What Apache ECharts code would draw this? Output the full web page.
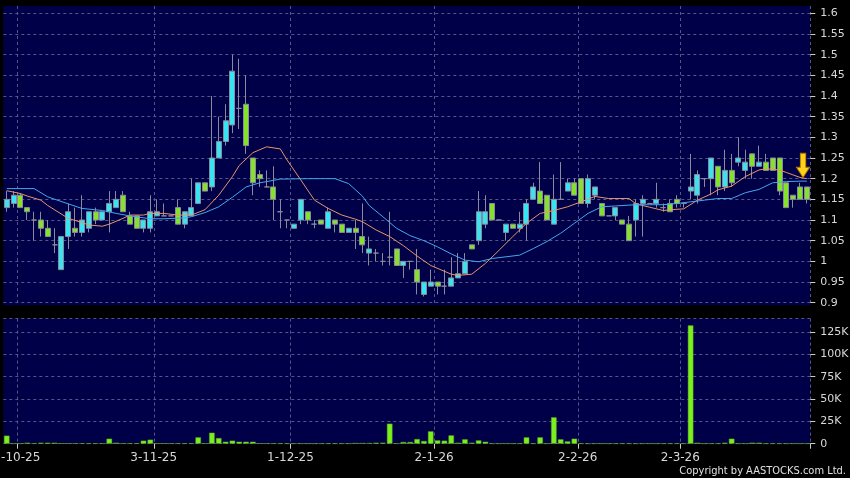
<!DOCTYPE html>
<html><head><meta charset="utf-8">
<script src="https://cdn.jsdelivr.net/npm/echarts@6/dist/echarts.min.js"></script>
<style>html,body{margin:0;padding:0;background:#000;}#c{width:850px;height:478px;}</style>
</head><body><div id="c"></div>
<script>
const categories = [
'29-9-25','30-9-25','2-10-25','3-10-25','6-10-25','8-10-25','9-10-25','10-10-25','13-10-25','14-10-25',
'15-10-25','16-10-25','17-10-25','20-10-25','21-10-25','22-10-25','23-10-25','24-10-25','27-10-25','28-10-25',
'30-10-25','31-10-25','3-11-25','4-11-25','5-11-25','6-11-25','7-11-25','10-11-25','11-11-25','12-11-25',
'13-11-25','14-11-25','17-11-25','18-11-25','19-11-25','20-11-25','21-11-25','24-11-25','25-11-25','26-11-25',
'27-11-25','28-11-25','1-12-25','2-12-25','3-12-25','4-12-25','5-12-25','8-12-25','9-12-25','10-12-25',
'11-12-25','12-12-25','15-12-25','16-12-25','17-12-25','18-12-25','19-12-25','22-12-25','23-12-25','24-12-25',
'29-12-25','30-12-25','31-12-25','2-1-26','5-1-26','6-1-26','7-1-26','8-1-26','9-1-26','12-1-26',
'13-1-26','14-1-26','15-1-26','16-1-26','19-1-26','20-1-26','21-1-26','22-1-26','23-1-26','26-1-26',
'27-1-26','28-1-26','29-1-26','30-1-26','2-2-26','3-2-26','4-2-26','5-2-26','6-2-26','9-2-26',
'10-2-26','11-2-26','12-2-26','13-2-26','23-2-26','24-2-26','25-2-26','26-2-26','27-2-26','2-3-26',
'3-3-26','4-3-26','5-3-26','6-3-26','9-3-26','10-3-26','11-3-26','12-3-26','13-3-26','16-3-26',
'17-3-26','18-3-26','19-3-26','20-3-26','23-3-26','24-3-26','25-3-26','26-3-26'];
const labelDates = ['2-10-25','3-11-25','1-12-25','2-1-26','2-2-26','2-3-26'];

const openP = [
1.13,1.14,1.16,1.13,1.10,1.10,1.08,1.04,0.98,1.06,
1.08,1.07,1.08,1.12,1.10,1.12,1.13,1.16,1.11,1.11,
1.08,1.08,1.11,1.11,1.11,1.13,1.09,1.11,1.14,1.19,
1.18,1.25,1.29,1.33,1.37,1.38,1.25,1.21,1.18,1.18,
1.12,1.10,1.08,1.10,1.12,1.09,1.10,1.08,1.10,1.09,
1.07,1.08,1.06,1.02,1.02,1.00,1.01,1.03,0.99,1.00,
0.98,0.92,0.94,0.95,0.94,0.94,0.96,0.97,1.04,1.05,
1.09,1.14,1.10,1.07,1.09,1.08,1.09,1.15,1.17,1.16,
1.09,1.15,1.17,1.19,1.20,1.14,1.16,1.14,1.11,1.11,
1.10,1.09,1.10,1.14,1.14,1.14,1.13,1.14,1.15,1.14,
1.17,1.16,1.20,1.20,1.23,1.18,1.22,1.24,1.22,1.26,
1.23,1.24,1.25,1.25,1.19,1.16,1.18,1.18];
const closeP = [
1.15,1.16,1.13,1.12,1.10,1.08,1.06,1.04,1.06,1.12,
1.07,1.10,1.12,1.10,1.12,1.14,1.15,1.12,1.09,1.08,
1.10,1.12,1.12,1.11,1.11,1.09,1.12,1.13,1.19,1.17,
1.25,1.29,1.34,1.46,1.37,1.28,1.19,1.20,1.18,1.15,
1.12,1.10,1.09,1.15,1.10,1.09,1.09,1.12,1.09,1.07,
1.08,1.07,1.04,1.03,1.02,1.00,1.01,0.99,1.00,1.00,
0.95,0.95,0.95,0.94,0.94,0.96,0.97,1.00,1.03,1.12,
1.12,1.10,1.10,1.09,1.08,1.09,1.14,1.18,1.14,1.10,
1.15,1.15,1.19,1.16,1.14,1.20,1.18,1.11,1.11,1.13,
1.09,1.05,1.14,1.15,1.14,1.15,1.13,1.12,1.14,1.14,
1.18,1.21,1.20,1.25,1.18,1.22,1.19,1.25,1.24,1.23,
1.24,1.22,1.22,1.17,1.13,1.15,1.15,1.15];
const lowP = [
1.12,1.13,1.13,1.10,1.05,1.06,1.06,1.02,0.98,1.03,
1.06,1.06,1.07,1.09,1.10,1.07,1.13,1.12,1.09,1.08,
1.07,1.07,1.11,1.11,1.11,1.09,1.08,1.11,1.14,1.17,
1.17,1.25,1.28,1.31,1.32,1.26,1.16,1.18,1.18,1.10,
1.08,1.08,1.08,1.09,1.09,1.08,1.09,1.08,1.07,1.07,
1.07,1.03,1.02,0.99,1.00,0.99,0.99,0.99,0.96,0.98,
0.92,0.915,0.94,0.92,0.92,0.94,0.96,0.97,1.03,1.04,
1.08,1.10,1.10,1.05,1.08,1.07,1.05,1.15,1.14,1.10,
1.09,1.15,1.17,1.16,1.14,1.13,1.15,1.11,1.11,1.10,
1.09,1.05,1.06,1.06,1.14,1.13,1.12,1.12,1.13,1.13,
1.15,1.14,1.18,1.16,1.16,1.17,1.18,1.23,1.20,1.20,
1.23,1.22,1.22,1.16,1.13,1.13,1.15,1.14];
const highP = [
1.17,1.17,1.165,1.13,1.12,1.12,1.10,1.08,1.06,1.14,
1.13,1.16,1.12,1.13,1.12,1.17,1.17,1.17,1.12,1.11,
1.10,1.16,1.15,1.14,1.11,1.15,1.12,1.20,1.19,1.19,
1.40,1.35,1.38,1.50,1.49,1.45,1.25,1.22,1.22,1.23,
1.15,1.10,1.09,1.15,1.12,1.10,1.10,1.13,1.10,1.09,
1.08,1.10,1.14,1.06,1.03,1.02,1.12,1.03,1.00,1.00,
1.03,0.95,0.98,0.95,0.98,1.01,1.02,1.02,1.04,1.17,
1.16,1.14,1.10,1.09,1.09,1.12,1.15,1.19,1.24,1.16,
1.21,1.24,1.20,1.20,1.20,1.21,1.18,1.14,1.11,1.13,
1.10,1.11,1.15,1.16,1.14,1.19,1.14,1.15,1.16,1.14,
1.26,1.22,1.20,1.25,1.23,1.27,1.26,1.30,1.27,1.26,
1.28,1.26,1.25,1.25,1.19,1.16,1.19,1.18];

const volume = [
9000,200,200,1100,300,1100,1100,1100,400,400,
400,400,300,300,300,5600,1100,300,300,300,
3400,4500,300,300,300,300,300,300,7100,300,
12300,6300,2200,3400,2200,2200,2200,300,300,300,
200,200,200,200,200,200,200,200,200,200,
200,700,700,700,1100,1100,22400,300,1900,1900,
5200,3000,13800,3700,3400,9300,1100,4900,1100,3700,
2200,200,200,200,200,200,7100,200,7100,200,
29500,4900,2600,5600,200,200,200,200,200,200,
200,200,200,200,200,200,200,200,200,200,
132400,1100,200,200,200,1100,5600,200,200,1100,
1100,200,200,200,200,200,200,200];

const maShort = [[0,1.171],[2,1.164],[3,1.158],[5,1.148],[6,1.135],[9,1.104],[11,1.094],[12,1.088],[14,1.085],[15,1.09],[17,1.104],[18,1.112],[20,1.112],[21,1.116],[23,1.116],[25,1.112],[27,1.112],[29,1.125],[31,1.16],[33,1.205],[34,1.232],[36,1.263],[38,1.277],[40,1.272],[41,1.245],[43,1.197],[45,1.148],[47,1.128],[49,1.112],[51,1.102],[52,1.096],[54,1.076],[56,1.06],[58,1.038],[60,1.013],[62,0.99],[65,0.969],[66,0.966],[68,0.969],[70,0.995],[72,1.027],[74,1.06],[76,1.092],[78,1.116],[80,1.123],[82,1.132],[84,1.144],[86,1.157],[88,1.152],[91,1.152],[92,1.139],[94,1.131],[96,1.123],[98,1.126],[99,1.127],[101,1.148],[103,1.163],[104,1.173],[106,1.182],[108,1.205],[110,1.221],[111,1.224],[113,1.221],[114,1.215],[116,1.203],[117,1.2]];
const maLong = [[0,1.176],[4,1.176],[6,1.156],[9,1.139],[11,1.128],[14,1.123],[16,1.116],[18,1.11],[21,1.103],[23,1.103],[26,1.105],[27,1.108],[29,1.118],[31,1.132],[33,1.155],[35,1.18],[37,1.19],[40,1.199],[44,1.2],[48,1.2],[50,1.188],[52,1.158],[53,1.135],[55,1.108],[57,1.08],[59,1.062],[61,1.05],[63,1.035],[65,1.018],[67,1.003],[69,0.999],[71,1.007],[73,1.011],[75,1.015],[77,1.031],[79,1.048],[81,1.068],[83,1.092],[85,1.116],[87,1.132],[89,1.134],[92,1.137],[94,1.137],[96,1.137],[98,1.14],[100,1.144],[102,1.148],[104,1.152],[106,1.152],[108,1.166],[110,1.174],[112,1.19],[114,1.193],[116,1.194],[117,1.194]];

const priceMin = 0.9, priceMax = 1.6, priceStep = 0.05;
const volMax = 140000, volStep = 25000;

const labelIdx = labelDates.map(d => categories.indexOf(d));
const isLabel = (i) => labelIdx.indexOf(i) >= 0;
const candles = categories.map((_, i) => [openP[i], closeP[i], lowP[i], highP[i]]);

const BG = '#000048';
const GRIDC = '#55558a';
const TXT = '#d8d8d8';
const FONT = 'DejaVu Sans';
const L = 3.3, W = 807;

const chart = echarts.init(document.getElementById('c'), null, {renderer: 'canvas'});
chart.setOption({
  backgroundColor: '#000000',
  animation: false,
  grid: [
    {left: L, top: 6, width: W, height: 299.3, show: true, backgroundColor: BG, borderWidth: 0, outerBoundsMode: 'none', containLabel: false},
    {left: L, top: 13.3, width: W, height: 289.4, borderWidth: 0, outerBoundsMode: 'none', containLabel: false},
    {left: L, top: 318.6, width: W, height: 125.1, show: true, backgroundColor: BG, borderWidth: 0, outerBoundsMode: 'none', containLabel: false}
  ],
  xAxis: [
    {type: 'category', gridIndex: 0, data: categories, boundaryGap: true,
     axisLine: {show: false}, axisTick: {show: false}, axisLabel: {show: false},
     splitLine: {show: true, interval: (i) => isLabel(i), lineStyle: {color: GRIDC, type: [3, 3], width: 1}}},
    {type: 'category', gridIndex: 1, data: categories, boundaryGap: true, show: false},
    {type: 'category', gridIndex: 2, data: categories, boundaryGap: true,
     axisLine: {show: false},
     axisTick: {show: true, interval: (i) => isLabel(i), length: 5, lineStyle: {color: '#cccccc'}},
     axisLabel: {show: true, interval: (i) => isLabel(i), color: TXT, fontFamily: FONT, fontSize: 12, margin: 8, padding: [0, 7, 0, 0]},
     splitLine: {show: true, interval: (i) => isLabel(i), lineStyle: {color: GRIDC, type: [3, 3], width: 1}}}
  ],
  yAxis: [
    {type: 'value', gridIndex: 0, min: 0.8944, max: 1.6177, show: false},
    {type: 'value', gridIndex: 1, position: 'right', min: priceMin, max: priceMax, interval: priceStep,
     axisLine: {show: false},
     axisTick: {show: true, length: 5, lineStyle: {color: '#cccccc'}},
     axisLabel: {color: TXT, fontFamily: FONT, fontSize: 11, margin: 10,
       formatter: (v) => String(+v.toFixed(2))},
     splitLine: {show: true, lineStyle: {color: GRIDC, type: [3, 3], width: 1}}},
    {type: 'value', gridIndex: 2, position: 'right', min: 0, max: volMax, interval: volStep,
     axisLine: {show: false},
     axisTick: {show: true, length: 5, lineStyle: {color: '#cccccc'}},
     axisLabel: {color: TXT, fontFamily: FONT, fontSize: 11, margin: 10, showMaxLabel: false,
       formatter: (v) => v === 0 ? '0' : (v % volStep === 0 ? (v / 1000) + 'K' : '')},
     splitLine: {show: true, lineStyle: {color: GRIDC, type: [3, 3], width: 1}}}
  ],
  series: [
    {type: 'candlestick', xAxisIndex: 1, yAxisIndex: 1, data: candles, barWidth: 5.5,
     itemStyle: {color: '#38e4f2', color0: '#84e22a', borderColor: '#8a8a9a', borderColor0: '#8a8a9a', borderWidth: 1},
     markPoint: {symbol: 'path://M4,0 L10,0 L10,14 L14,14 L7,24 L0,14 L4,14 Z', symbolSize: [13, 24], symbolOffset: [3, 0],
       itemStyle: {color: '#ffd21a', borderColor: '#b07a00', borderWidth: 1}, label: {show: false},
       data: [{coord: [116, 1.232]}]}},
    {type: 'line', xAxisIndex: 1, yAxisIndex: 1, data: maShort, showSymbol: false, connectNulls: true,
     lineStyle: {color: '#e8946a', width: 1}, z: 3},
    {type: 'line', xAxisIndex: 1, yAxisIndex: 1, data: maLong, showSymbol: false, connectNulls: true,
     lineStyle: {color: '#44a8ea', width: 1}, z: 3},
    {type: 'bar', xAxisIndex: 2, yAxisIndex: 2, data: volume, barWidth: 5.5,
     itemStyle: {color: '#7cf01e', borderColor: '#5aa818', borderWidth: 0.5}}
  ],
  graphic: [
    {type: 'text', right: 4, bottom: 1, style: {text: 'Copyright by AASTOCKS.com Ltd.', fill: '#e0e0e0', font: '11px "DejaVu Sans Condensed", "DejaVu Sans"'}}
  ]
});
</script></body></html>
